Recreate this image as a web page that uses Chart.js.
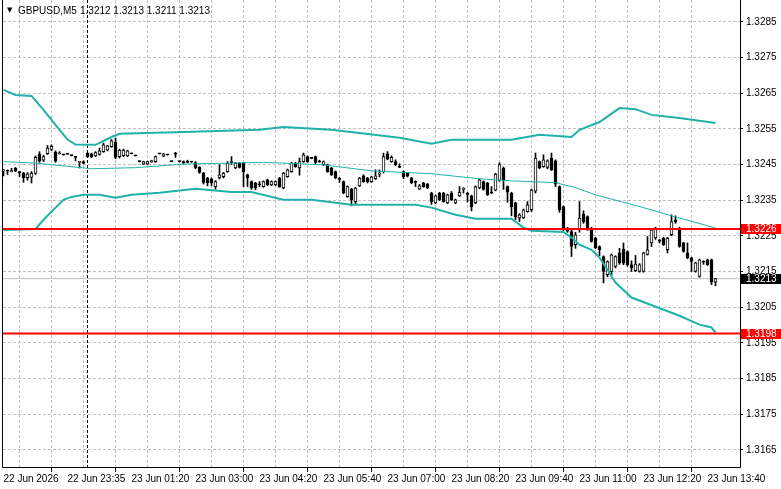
<!DOCTYPE html>
<html>
<head>
<meta charset="utf-8">
<script src="https://cdn.jsdelivr.net/npm/chart.js@4.4.1/dist/chart.umd.min.js"></script>
<style>
  body { margin: 0; background: #fff; }
  #wrap { position: relative; width: 781px; height: 489px; }
  .hdr { position: absolute; top: 5px; font: 10px 'Liberation Sans', Arial, sans-serif; color: #000; white-space: pre; }
  #tri { position: absolute; left: 7px; top: 6px; font: 7px 'DejaVu Sans', sans-serif; color: #000; }
</style>
</head>
<body>
<div id="wrap">
  <canvas id="chart" width="781" height="489"></canvas>
  <span id="tri">▼</span>
  <span class="hdr" id="sym" style="left:18px"></span>
  <span class="hdr" id="ohlc" style="left:80px"></span>
</div>
<script>
// GBPUSD M5, one bar every 5 min
const symbol = 'GBPUSD', timeframe = 'M5';
const timeLabels = ['22 Jun 2026', '22 Jun 23:35', '23 Jun 01:20', '23 Jun 03:00', '23 Jun 04:20', '23 Jun 05:40',
  '23 Jun 07:00', '23 Jun 08:20', '23 Jun 09:40', '23 Jun 11:00', '23 Jun 12:20', '23 Jun 13:40'];
const labelStep = 16, gridStep = 8;
const separatorBar = 21; // 23 Jun 00:00

const open = [
  1.32432,1.32433,1.32430,1.32439,1.32429,1.32426,1.32413,1.32414,1.32425,1.32479,1.32462,1.32480,1.32492,1.32485,1.32480,1.32477,1.32479,1.32475,1.32471,1.32456,
  1.32458,1.32481,1.32480,1.32474,1.32478,1.32486,1.32490,1.32500,1.32512,1.32472,1.32475,1.32474,1.32481,1.32475,1.32459,1.32451,1.32451,1.32458,1.32458,1.32480,
  1.32473,1.32477,1.32459,1.32480,1.32458,1.32458,1.32456,1.32457,1.32455,1.32442,1.32426,1.32412,1.32410,1.32388,1.32412,1.32416,1.32430,1.32458,1.32440,1.32454,
  1.32454,1.32421,1.32402,1.32398,1.32395,1.32388,1.32407,1.32393,1.32393,1.32412,1.32384,1.32416,1.32430,1.32454,1.32440,1.32458,1.32472,1.32468,1.32472,1.32458,
  1.32449,1.32449,1.32440,1.32430,1.32412,1.32402,1.32360,1.32381,1.32346,1.32390,1.32418,1.32412,1.32402,1.32410,1.32423,1.32430,1.32480,1.32458,1.32458,1.32444,
  1.32430,1.32426,1.32412,1.32402,1.32381,1.32398,1.32395,1.32370,1.32342,1.32370,1.32370,1.32342,1.32370,1.32342,1.32362,1.32380,1.32368,1.32362,1.32342,1.32384,
  1.32402,1.32398,1.32372,1.32378,1.32405,1.32440,1.32388,1.32370,1.32342,1.32300,1.32300,1.32318,1.32323,1.32375,1.32458,1.32444,1.32442,1.32468,1.32460,1.32388,
  1.32332,1.32270,1.32262,1.32225,1.32267,1.32311,1.32304,1.32272,1.32244,1.32220,1.32192,1.32141,1.32150,1.32164,1.32202,1.32213,1.32206,1.32169,1.32152,1.32150,
  1.32150,1.32198,1.32230,1.32244,1.32236,1.32244,1.32211,1.32253,1.32295,1.32272,1.32230,1.32202,1.32188,1.32150,1.32136,1.32177,1.32183,1.32183,1.32120];
const high = [
  1.32436,1.32435,1.32439,1.32442,1.32430,1.32428,1.32427,1.32430,1.32474,1.32486,1.32476,1.32503,1.32505,1.32488,1.32486,1.32478,1.32480,1.32476,1.32472,1.32459,
  1.32460,1.32483,1.32482,1.32486,1.32496,1.32510,1.32504,1.32520,1.32524,1.32493,1.32493,1.32490,1.32482,1.32476,1.32460,1.32459,1.32459,1.32462,1.32474,1.32481,
  1.32481,1.32478,1.32460,1.32484,1.32459,1.32460,1.32462,1.32458,1.32458,1.32444,1.32428,1.32414,1.32412,1.32405,1.32449,1.32428,1.32458,1.32472,1.32456,1.32456,
  1.32456,1.32423,1.32404,1.32400,1.32402,1.32404,1.32409,1.32404,1.32404,1.32414,1.32428,1.32437,1.32456,1.32456,1.32468,1.32482,1.32474,1.32470,1.32474,1.32462,
  1.32460,1.32451,1.32442,1.32432,1.32414,1.32404,1.32390,1.32383,1.32386,1.32414,1.32421,1.32414,1.32417,1.32435,1.32435,1.32482,1.32486,1.32474,1.32463,1.32452,
  1.32432,1.32428,1.32414,1.32404,1.32394,1.32400,1.32397,1.32372,1.32365,1.32372,1.32372,1.32367,1.32374,1.32353,1.32388,1.32385,1.32372,1.32364,1.32390,1.32409,
  1.32404,1.32400,1.32388,1.32425,1.32455,1.32443,1.32390,1.32372,1.32344,1.32312,1.32325,1.32346,1.32381,1.32482,1.32460,1.32477,1.32463,1.32482,1.32463,1.32390,
  1.32334,1.32274,1.32270,1.32260,1.32346,1.32320,1.32306,1.32274,1.32246,1.32222,1.32194,1.32180,1.32199,1.32194,1.32215,1.32230,1.32208,1.32180,1.32195,1.32172,
  1.32204,1.32248,1.32270,1.32274,1.32240,1.32246,1.32246,1.32309,1.32306,1.32274,1.32232,1.32230,1.32190,1.32176,1.32185,1.32180,1.32185,1.32185,1.32130];
const low = [
  1.32418,1.32422,1.32429,1.32430,1.32416,1.32400,1.32406,1.32398,1.32422,1.32456,1.32458,1.32478,1.32489,1.32456,1.32479,1.32476,1.32478,1.32474,1.32460,1.32440,
  1.32452,1.32470,1.32469,1.32472,1.32476,1.32484,1.32488,1.32498,1.32466,1.32468,1.32472,1.32472,1.32480,1.32474,1.32457,1.32450,1.32450,1.32456,1.32456,1.32479,
  1.32472,1.32476,1.32458,1.32470,1.32457,1.32452,1.32455,1.32456,1.32438,1.32425,1.32395,1.32390,1.32390,1.32381,1.32409,1.32412,1.32428,1.32450,1.32438,1.32440,
  1.32388,1.32388,1.32380,1.32379,1.32388,1.32386,1.32391,1.32391,1.32391,1.32386,1.32382,1.32414,1.32428,1.32442,1.32420,1.32456,1.32456,1.32466,1.32452,1.32456,
  1.32447,1.32428,1.32419,1.32410,1.32400,1.32368,1.32358,1.32334,1.32340,1.32388,1.32400,1.32398,1.32400,1.32408,1.32415,1.32426,1.32463,1.32456,1.32447,1.32441,
  1.32410,1.32415,1.32396,1.32388,1.32380,1.32386,1.32382,1.32338,1.32340,1.32349,1.32344,1.32340,1.32349,1.32340,1.32360,1.32370,1.32345,1.32320,1.32340,1.32382,
  1.32378,1.32363,1.32368,1.32376,1.32403,1.32380,1.32344,1.32306,1.32295,1.32290,1.32298,1.32316,1.32318,1.32370,1.32438,1.32442,1.32438,1.32433,1.32388,1.32316,
  1.32265,1.32260,1.32192,1.32215,1.32260,1.32285,1.32265,1.32232,1.32214,1.32194,1.32118,1.32135,1.32140,1.32160,1.32170,1.32169,1.32165,1.32150,1.32150,1.32148,
  1.32148,1.32196,1.32220,1.32240,1.32230,1.32223,1.32202,1.32250,1.32285,1.32218,1.32204,1.32186,1.32150,1.32148,1.32134,1.32170,1.32167,1.32113,1.32110];
const close = [
  1.32434,1.32431,1.32432,1.32431,1.32427,1.32413,1.32424,1.32426,1.32470,1.32459,1.32472,1.32496,1.32501,1.32459,1.32481,1.32477,1.32479,1.32475,1.32470,1.32458,
  1.32453,1.32472,1.32471,1.32483,1.32488,1.32505,1.32502,1.32516,1.32470,1.32490,1.32490,1.32488,1.32480,1.32474,1.32458,1.32458,1.32458,1.32460,1.32472,1.32480,
  1.32480,1.32477,1.32458,1.32479,1.32458,1.32454,1.32456,1.32457,1.32440,1.32428,1.32400,1.32398,1.32398,1.32402,1.32421,1.32426,1.32454,1.32455,1.32454,1.32442,
  1.32430,1.32412,1.32384,1.32384,1.32393,1.32402,1.32393,1.32402,1.32402,1.32388,1.32426,1.32435,1.32454,1.32444,1.32458,1.32477,1.32458,1.32467,1.32456,1.32457,
  1.32458,1.32430,1.32421,1.32412,1.32408,1.32370,1.32388,1.32351,1.32384,1.32412,1.32402,1.32402,1.32415,1.32418,1.32425,1.32472,1.32465,1.32470,1.32449,1.32442,
  1.32416,1.32417,1.32398,1.32400,1.32390,1.32388,1.32385,1.32346,1.32362,1.32351,1.32346,1.32365,1.32351,1.32351,1.32372,1.32383,1.32366,1.32332,1.32388,1.32407,
  1.32380,1.32365,1.32370,1.32423,1.32450,1.32407,1.32372,1.32332,1.32304,1.32309,1.32323,1.32337,1.32379,1.32468,1.32440,1.32463,1.32460,1.32435,1.32395,1.32323,
  1.32272,1.32263,1.32220,1.32253,1.32300,1.32290,1.32267,1.32234,1.32216,1.32211,1.32150,1.32178,1.32197,1.32192,1.32174,1.32173,1.32169,1.32160,1.32171,1.32169,
  1.32202,1.32211,1.32267,1.32272,1.32235,1.32225,1.32244,1.32290,1.32289,1.32220,1.32206,1.32188,1.32178,1.32174,1.32183,1.32176,1.32169,1.32120,1.32130];

// Bollinger bands, read at the bars where the lines bend
const upperBars = [0,3,7,10,12,14,16,18,23,27,29,45,64,70,82,89,99,107,112,127,134,142,144,149,154,158,162,169,178];
const upperBand = [1.32659,1.32645,1.32642,1.32603,1.32575,1.32547,1.32520,1.32506,1.32505,1.32527,1.32536,1.32541,1.32547,1.32555,1.32547,
  1.32538,1.32525,1.32508,1.32519,1.32519,1.32533,1.32527,1.32547,1.32569,1.32608,1.32605,1.32589,1.32580,1.32566];
const midBars = [0,8,22,33,45,65,80,92,107,119,127,138,143,148,160,168,178];
const midBand = [1.32458,1.32454,1.32438,1.32441,1.32451,1.32456,1.32449,1.32432,1.32424,1.32410,1.32404,1.32399,1.32385,1.32365,1.32329,1.32303,1.32272];
const lowerBars = [0,8,10,13,15,17,20,24,28,32,39,48,57,62,70,77,87,103,107,113,118,127,130,132,140,142,144,147,149,151,153,157,169,174,177,178];
const lowerBand = [1.32266,1.32269,1.32295,1.32329,1.32351,1.32359,1.32365,1.32365,1.32357,1.32365,1.32371,1.32382,1.32373,1.32373,1.32351,1.32351,
  1.32337,1.32337,1.32329,1.32309,1.32298,1.32298,1.32273,1.32264,1.32261,1.32245,1.32225,1.32211,1.32189,1.32155,1.32119,1.32077,1.32026,1.32001,1.31993,1.31979];

const levels = [1.32269, 1.31976];
const levelText = ['1.3226', '1.3198'];
const priceTicks = [1.3165,1.3175,1.3185,1.3195,1.3205,1.3215,1.3225,1.3235,1.3245,1.3255,1.3265,1.3275,1.3285];
const yMin = 1.31602, yMax = 1.32911;
const xMin = -0.125, xMax = 184.125;

const last = close.length - 1;
document.getElementById('sym').textContent = symbol + ',' + timeframe;
document.getElementById('ohlc').textContent = [open[last], high[last], low[last], close[last]].map(v => v.toFixed(4)).join(' ');

const FONT = "'Liberation Sans', Arial, sans-serif";
Chart.defaults.font.family = FONT;
Chart.defaults.font.size = 10;
Chart.defaults.color = '#000';

const teal = '#20b2aa';
const bars = open.map((_, i) => i);
const band = (xs, vals, w) => ({
  type: 'line', data: xs.map((x, k) => ({x, y: vals[k]})),
  borderColor: teal, borderWidth: w, pointRadius: 0, tension: 0, order: 2
});
const hline = (v, color, w, ord) => ({
  type: 'line', data: [{x: xMin, y: v}, {x: xMax, y: v}],
  borderColor: color, borderWidth: w, pointRadius: 0, order: ord
});

const overlay = {
  id: 'overlay',
  beforeDatasetsDraw(chart) {
    const {ctx, chartArea: a, scales: {x}} = chart;
    const px = x.getPixelForValue(separatorBar);
    ctx.save();
    ctx.strokeStyle = '#000';
    ctx.lineWidth = 1;
    ctx.setLineDash([3, 2]);
    ctx.beginPath();
    ctx.moveTo(px, a.top);
    ctx.lineTo(px, a.bottom);
    ctx.stroke();
    ctx.restore();
  },
  afterDraw(chart) {
    const {ctx, chartArea: a, scales: {y}} = chart;
    ctx.save();
    ctx.strokeStyle = '#000';
    ctx.lineWidth = 1;
    ctx.beginPath();
    ctx.moveTo(a.left - 0.5, a.top);
    ctx.lineTo(a.left - 0.5, a.bottom + 0.5);
    ctx.lineTo(a.right + 0.5, a.bottom + 0.5);
    ctx.lineTo(a.right + 0.5, a.top);
    ctx.stroke();
    // price tags on the right scale
    const tag = (v, text, bg) => {
      const py = Math.round(y.getPixelForValue(v));
      ctx.fillStyle = bg;
      ctx.fillRect(a.right + 1, py - 5, 40, 10);
      ctx.fillStyle = '#fff';
      ctx.font = '10px ' + FONT;
      ctx.textBaseline = 'middle';
      ctx.textAlign = 'left';
      ctx.fillText(text, a.right + 6, py);
    };
    tag(close[last], close[last].toFixed(4), '#000');
    levels.forEach((v, k) => tag(v, levelText[k], '#ff0000'));
    ctx.restore();
  }
};

new Chart(document.getElementById('chart'), {
  type: 'bar',
  data: {
    datasets: [
      {type: 'bar', data: bars.map(i => ({x: i, y: [low[i], high[i]]})), backgroundColor: '#000',
       barThickness: 1, grouped: false, order: 5},
      {type: 'bar', data: bars.map(i => ({x: i, y: [open[i], close[i]]})),
       backgroundColor: bars.map(i => close[i] > open[i] ? '#fff' : '#000'),
       borderColor: '#000', borderWidth: 1, borderSkipped: false, barThickness: 3, minBarLength: 1,
       grouped: false, order: 4},
      hline(close[last], '#c0c0c0', 1, 6),
      band(upperBars, upperBand, 2),
      band(midBars, midBand, 1),
      band(lowerBars, lowerBand, 2),
      hline(levels[0], '#ff0000', 2, 0),
      hline(levels[1], '#ff0000', 2, 0)
    ]
  },
  options: {
    responsive: false,
    animation: false,
    devicePixelRatio: 1,
    events: [],
    layout: {padding: {left: 3, top: 0, right: 0, bottom: 0}},
    plugins: {legend: {display: false}, tooltip: {enabled: false}},
    scales: {
      x: {
        type: 'linear', min: xMin, max: xMax, offset: false,
        afterBuildTicks: s => {
          s.ticks = [];
          for (let v = 0; v <= xMax; v += gridStep) s.ticks.push({value: v});
        },
        afterFit: s => { s.height = 22; s.paddingLeft = 0; s.paddingRight = 0; },
        ticks: {
          autoSkip: false, maxRotation: 0, align: 'start', padding: 1,
          callback: v => (v % labelStep === 0 && timeLabels[v / labelStep]) || ''
        },
        grid: {
          color: c => (c.tick && c.tick.value > 0 && c.tick.value < 180) ? '#c0c0c0' : 'rgba(0,0,0,0)',
          tickColor: c => (c.tick && c.tick.value % labelStep === 0) ? '#000' : 'rgba(0,0,0,0)',
          tickLength: 5, tickBorderDash: []
        },
        border: {display: false, dash: [3, 2]}
      },
      y: {
        position: 'right', min: yMin, max: yMax,
        afterBuildTicks: s => { s.ticks = priceTicks.map(v => ({value: v})); },
        afterFit: s => { s.width = 41; s.paddingTop = 0; s.paddingBottom = 0; },
        ticks: {autoSkip: false, padding: 3, callback: v => v.toFixed(4)},
        grid: {color: '#c0c0c0', tickColor: '#000', tickLength: 3, tickBorderDash: []},
        border: {display: false, dash: [3, 2]}
      }
    }
  },
  plugins: [overlay]
});
</script>
</body>
</html>
